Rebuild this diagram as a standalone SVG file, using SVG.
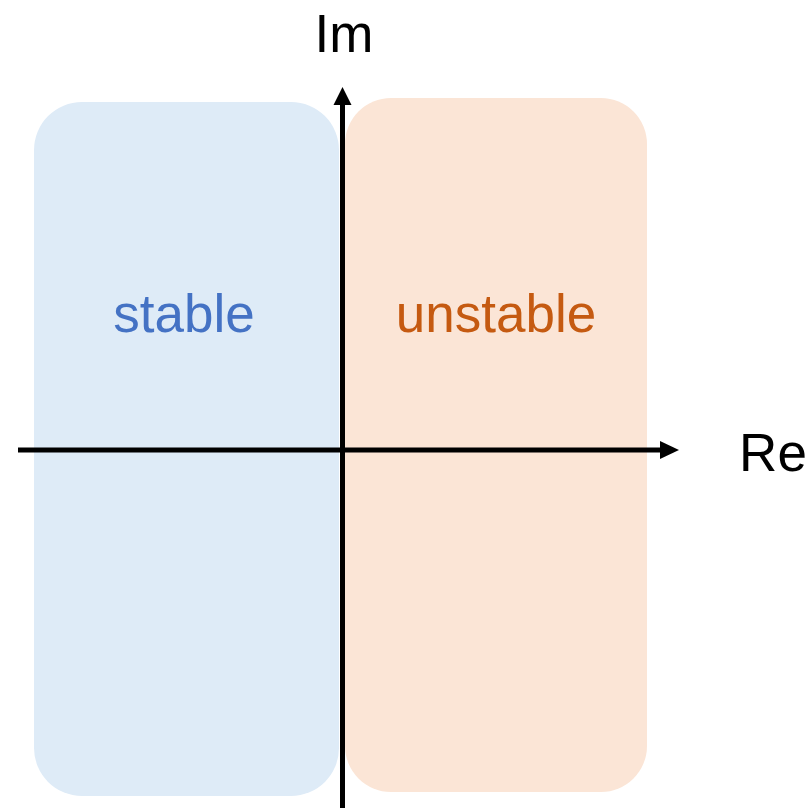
<svg xmlns="http://www.w3.org/2000/svg" width="809" height="808" viewBox="0 0 809 808">
  <defs>
    <style>
      .label { font-family: "Liberation Sans", Arial, sans-serif; font-size: 53px; text-anchor: middle; }
      .axis { stroke: #000; stroke-width: 5; fill: none; }
      .head { fill: #000; stroke: none; }
    </style>
  </defs>
  <rect width="809" height="808" fill="#fff"/>

  <g id="stable-region">
    <rect x="34" y="102" width="305" height="694" rx="48" ry="48" fill="#DEEBF7"/>
    <text class="label" x="184" y="332" fill="#4472C4">stable</text>
  </g>

  <g id="unstable-region">
    <rect x="345" y="98" width="302" height="694" rx="46" ry="46" fill="#FBE5D6"/>
    <text class="label" x="496" y="332" fill="#C55A11">unstable</text>
  </g>

  <g id="axes">
    <!-- imaginary axis -->
    <line class="axis" x1="342.5" y1="808" x2="342.5" y2="103"/>
    <path class="head" d="M342.5,87 L333.5,105 L351.5,105 Z"/>
    <!-- real axis -->
    <line class="axis" x1="18" y1="450" x2="662" y2="450"/>
    <path class="head" d="M679,450 L660,441 L660,459 Z"/>
  </g>

  <g id="axis-labels">
    <text class="label" x="344" y="52" font-size="54">Im</text>
    <text class="label" x="773" y="471">Re</text>
  </g>
</svg>
